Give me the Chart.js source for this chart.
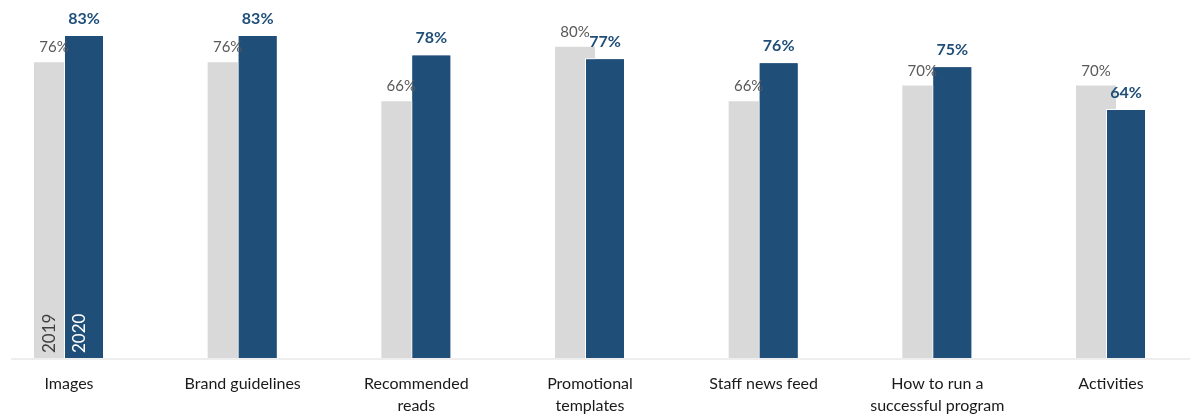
<!DOCTYPE html>
<html>
<head>
<meta charset="utf-8">
<script src="https://cdn.jsdelivr.net/npm/chart.js@4"></script>
<style>
  html, body { margin: 0; padding: 0; background: #fff; }
  #wrap { width: 1190px; height: 416px; position: relative; }
</style>
</head>
<body>
<div id="wrap"><canvas id="chart"></canvas></div>
<script>
// categories + yearly values (percent)
const categories = [
  'Images',
  'Brand guidelines',
  ['Recommended', 'reads'],
  ['Promotional', 'templates'],
  'Staff news feed',
  ['How to run a', 'successful program'],
  'Activities'
];
const years = ['2019', '2020'];
const values2019 = [76, 76, 66, 80, 66, 70, 70];
const values2020 = [83, 83, 78, 77, 76, 75, 64];

const GREY = '#d9d9d9';
const BLUE = '#1f4e79';
const FONT = 'Lato, "Open Sans", sans-serif';

// light baseline running the full width of the canvas
const baseLine = {
  id: 'baseLine',
  beforeDatasetsDraw(chart) {
    const { ctx } = chart;
    const y = chart.scales.y.getPixelForValue(0);
    ctx.save();
    ctx.strokeStyle = '#eeeeee';
    ctx.lineWidth = 2;
    ctx.beginPath();
    ctx.moveTo(11, y + 1);
    ctx.lineTo(chart.width, y + 1);
    ctx.stroke();
    ctx.restore();
  }
};

// 2020 bars sit on top of the 2019 ones, then the value + year labels
const barLabels = {
  id: 'barLabels',
  afterDatasetsDraw(chart) {
    const { ctx } = chart;
    chart.getDatasetMeta(1).controller.draw();

    const grey = chart.getDatasetMeta(0).data;
    const blue = chart.getDatasetMeta(1).data;
    ctx.save();
    ctx.textAlign = 'center';
    ctx.textBaseline = 'alphabetic';

    ctx.font = '15px ' + FONT;
    ctx.fillStyle = '#595959';
    grey.forEach((bar, i) => ctx.fillText(values2019[i] + '%', bar.x, bar.y - 10));

    ctx.font = 'bold 16px ' + FONT;
    ctx.fillStyle = BLUE;
    blue.forEach((bar, i) => ctx.fillText(values2020[i] + '%', bar.x, bar.y - 11));

    // year tags inside the first pair, reading upward
    const base = chart.scales.y.getPixelForValue(0);
    ctx.font = '17px ' + FONT;
    ctx.textAlign = 'left';
    ctx.textBaseline = 'middle';
    [[grey[0], '#404040', years[0]], [blue[0], '#ffffff', years[1]]].forEach(([bar, color, txt]) => {
      ctx.save();
      ctx.translate(bar.x - 4, base - 5);
      ctx.rotate(-Math.PI / 2);
      ctx.fillStyle = color;
      ctx.fillText(txt, 0, 0);
      ctx.restore();
    });
    ctx.restore();
  }
};

new Chart(document.getElementById('chart'), {
  type: 'bar',
  data: {
    labels: categories,
    datasets: [
      {
        label: years[0],
        data: values2019,
        backgroundColor: GREY,
        borderWidth: 0,
        clip: false
      },
      {
        label: years[1],
        data: values2020,
        backgroundColor: BLUE,
        borderColor: '#ffffff',
        borderWidth: 1,
        clip: false
      }
    ]
  },
  options: {
    responsive: true,
    maintainAspectRatio: false,
    animation: false,
    categoryPercentage: 0.3455,
    barPercentage: 1.333,
    layout: { padding: { left: 69, right: 79, top: 0, bottom: 0 } },
    plugins: {
      legend: { display: false },
      tooltip: { enabled: false }
    },
    scales: {
      x: {
        offset: false,
        grid: { display: false, drawTicks: false },
        border: { display: false },
        afterFit(scale) { scale.height = 58; },
        ticks: {
          autoSkip: false,
          maxRotation: 0,
          padding: 15,
          color: '#1a1a1a',
          font: { family: FONT, size: 16, lineHeight: 1.35 }
        }
      },
      y: {
        display: false,
        min: 0,
        max: 92
      }
    }
  },
  plugins: [baseLine, barLabels]
});
</script>
</body>
</html>
